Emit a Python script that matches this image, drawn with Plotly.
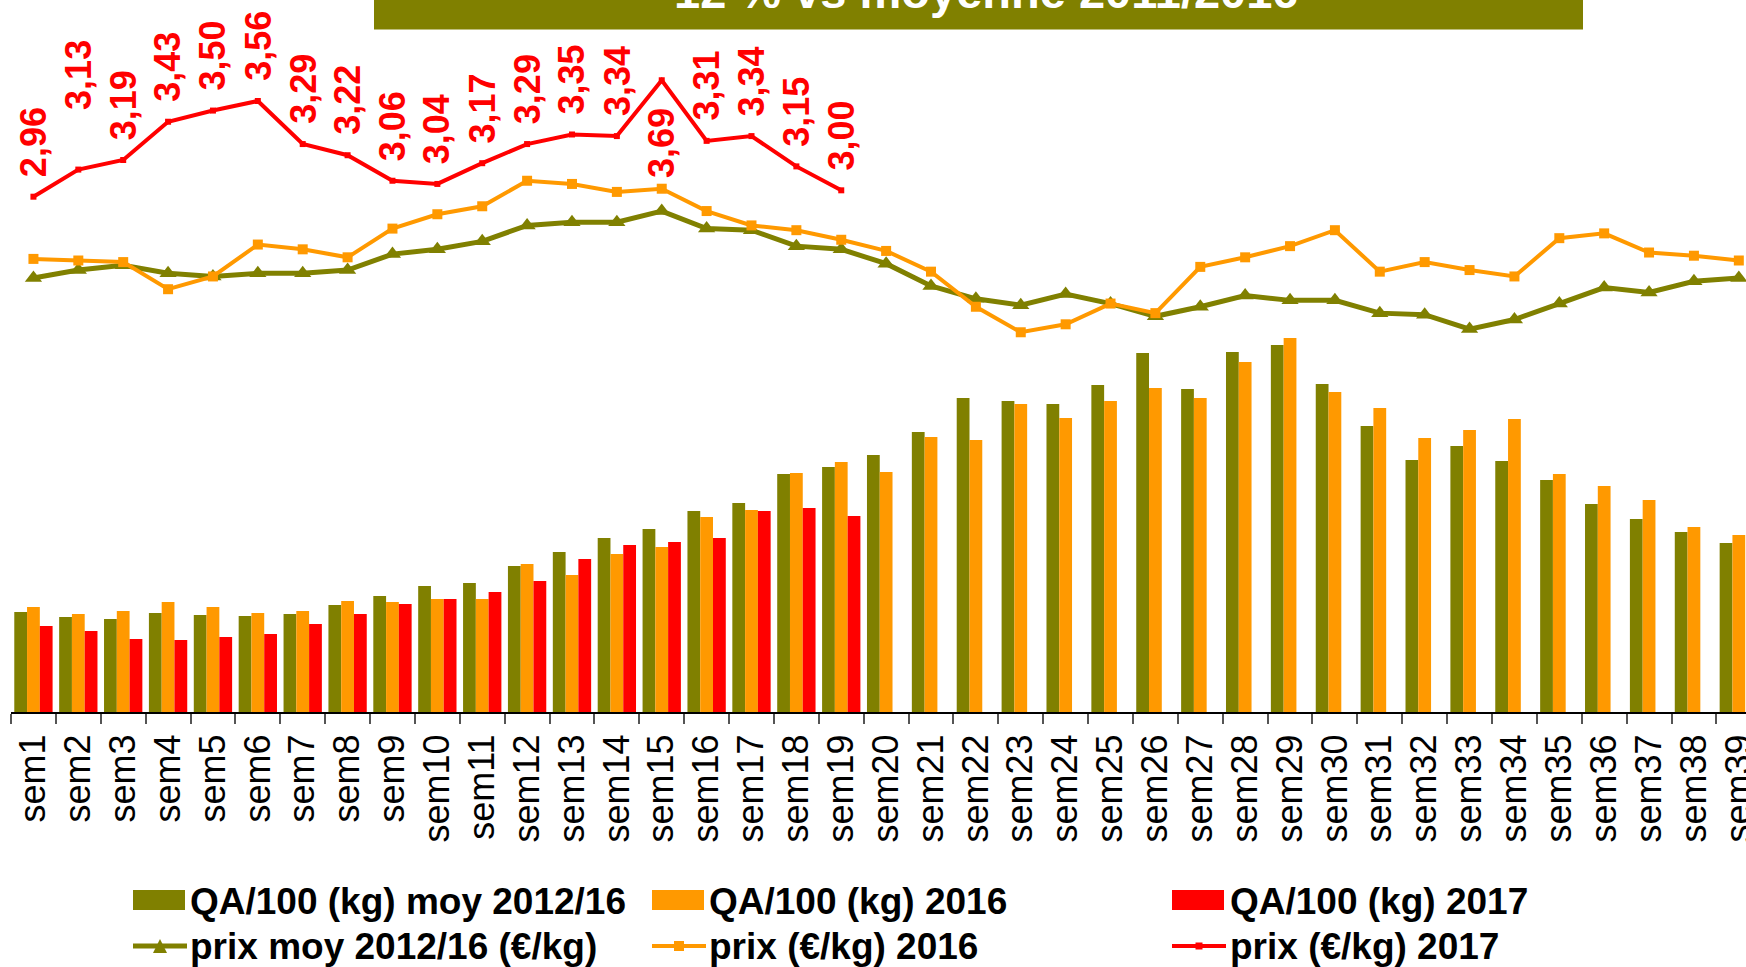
import plotly.graph_objects as go

# ---------------- data ----------------
weeks = [f"sem{i}" for i in range(1, 40)]

qa_moy = [10.0, 9.5, 9.3, 9.9, 9.7, 9.6, 9.8, 10.7, 11.6, 12.6,
          12.9, 14.6, 16.0, 17.4, 18.3, 20.1, 20.9, 23.8, 24.5, 25.7,
          28.0, 31.4, 31.1, 30.8, 32.7, 35.9, 32.3, 36.0, 36.7, 32.8,
          28.6, 25.2, 26.6, 25.1, 23.2, 20.8, 19.3, 18.0, 16.9]
qa_2016 = [10.5, 9.8, 10.1, 11.0, 10.5, 9.9, 10.1, 11.1, 11.0, 11.3,
           11.3, 14.8, 13.7, 15.8, 16.5, 19.5, 20.2, 23.9, 25.0, 24.0,
           27.5, 27.2, 30.8, 29.4, 31.1, 32.4, 31.4, 35.0, 37.4, 32.0,
           30.4, 27.4, 28.2, 29.3, 23.8, 22.6, 21.2, 18.5, 17.7]
qa_2017 = [8.6, 8.1, 7.3, 7.2, 7.5, 7.8, 8.8, 9.8, 10.8, 11.3,
           12.0, 13.1, 15.3, 16.7, 17.0, 17.4, 20.1, 20.4, 19.6] + [None] * 20

prix_moy = [2.45, 2.50, 2.53, 2.48, 2.46, 2.48, 2.48, 2.50, 2.60, 2.63,
            2.68, 2.78, 2.80, 2.80, 2.87, 2.76, 2.75, 2.65, 2.63, 2.54,
            2.40, 2.32, 2.28, 2.35, 2.29, 2.21, 2.27, 2.34, 2.31, 2.31,
            2.23, 2.22, 2.13, 2.19, 2.29, 2.39, 2.36, 2.43, 2.45]
prix_2016 = [2.57, 2.56, 2.55, 2.38, 2.46, 2.66, 2.63, 2.58, 2.76, 2.85,
             2.90, 3.06, 3.04, 2.99, 3.01, 2.87, 2.78, 2.75, 2.69, 2.62,
             2.49, 2.27, 2.11, 2.16, 2.29, 2.23, 2.52, 2.58, 2.65, 2.75,
             2.49, 2.55, 2.50, 2.46, 2.70, 2.73, 2.61, 2.59, 2.56]
prix_2017 = [2.96, 3.13, 3.19, 3.43, 3.50, 3.56, 3.29, 3.22, 3.06, 3.04,
             3.17, 3.29, 3.35, 3.34, 3.69, 3.31, 3.34, 3.15, 3.00] + [None] * 20

series_names = ["QA/100 (kg) moy 2012/16", "QA/100 (kg) 2016", "QA/100 (kg) 2017",
                "prix moy 2012/16 (€/kg)", "prix (€/kg) 2016", "prix (€/kg) 2017"]
title_text = "12 % vs moyenne 2011/2016"

OLIVE, ORANGE, RED = "#808000", "#FF9900", "#FF0000"
FONT = "Arial, Liberation Sans, sans-serif"

# ---------------- geometry helpers ----------------
W, H = 1746, 967
ML, MR, MT, MB = 11, 0, 0, 255
PW, PH = W - ML - MR, H - MT - MB


def px_x(px):
    return (px - ML) / PW


def px_y(py):
    return 1 - (py - MT) / PH


fig = go.Figure()
for vals, name, col in [(qa_moy, series_names[0], OLIVE),
                        (qa_2016, series_names[1], ORANGE),
                        (qa_2017, series_names[2], RED)]:
    fig.add_trace(go.Bar(x=weeks, y=vals, name=name, marker_color=col,
                         marker_line_width=0, yaxis="y"))

fig.add_trace(go.Scatter(x=weeks, y=prix_moy, name=series_names[3], mode="lines+markers",
                         line=dict(color=OLIVE, width=5),
                         marker=dict(symbol="triangle-up", size=15, color=OLIVE),
                         yaxis="y2"))
fig.add_trace(go.Scatter(x=weeks, y=prix_2016, name=series_names[4], mode="lines+markers",
                         line=dict(color=ORANGE, width=4),
                         marker=dict(symbol="square", size=10, color=ORANGE),
                         yaxis="y2"))
fig.add_trace(go.Scatter(x=weeks, y=prix_2017, name=series_names[5], mode="lines+markers",
                         line=dict(color=RED, width=4),
                         marker=dict(symbol="square", size=6, color=RED),
                         yaxis="y2"))

annotations = []
# data labels on 2017 price (rotated)
for i, v in enumerate(prix_2017):
    if v is None:
        continue
    txt = f"<b>{v:.2f}</b>".replace(".", ",")
    if weeks[i] == "sem15":
        ya, ys = "top", -26
    elif weeks[i] == "sem2":
        ya, ys = "bottom", 58
    else:
        ya, ys = "bottom", 18
    annotations.append(dict(x=weeks[i], y=v, xref="x", yref="y2", text=txt,
                            textangle=-90, showarrow=False, yanchor=ya, xanchor="center",
                            yshift=ys, font=dict(family=FONT, size=36, color=RED)))

# title (top cropped)
annotations.append(dict(x=px_x(986), y=px_y(20), xref="paper", yref="paper",
                        text=f"<b>{title_text}</b>", showarrow=False,
                        xanchor="center", yanchor="bottom",
                        font=dict(family=FONT, size=47, color="white")))

shapes = [dict(type="rect", xref="paper", yref="paper", layer="below",
               x0=px_x(374), x1=px_x(1583), y0=px_y(29.5), y1=px_y(-20),
               fillcolor=OLIVE, line_width=0)]

# custom legend
row1, row2 = 900, 946
cols = [(133, 188), (652, 707), (1172, 1228)]
bar_cols = [OLIVE, ORANGE, RED]
for (sx, tx), c, name in zip(cols, bar_cols, series_names[:3]):
    shapes.append(dict(type="rect", xref="paper", yref="paper",
                       x0=px_x(sx), x1=px_x(sx + 52), y0=px_y(row1 + 10), y1=px_y(row1 - 10),
                       fillcolor=c, line_width=0))
    annotations.append(dict(x=px_x(tx), y=px_y(row1 + 1), xref="paper", yref="paper",
                            text=f"<b>{name}</b>", showarrow=False, xanchor="left",
                            yanchor="middle", font=dict(family=FONT, size=37, color="black")))
line_widths = [5, 4, 4]
for (sx, tx), c, name, lw, k in zip(cols, bar_cols, series_names[3:], line_widths, range(3)):
    shapes.append(dict(type="line", xref="paper", yref="paper",
                       x0=px_x(sx), x1=px_x(sx + 54), y0=px_y(row2), y1=px_y(row2),
                       line=dict(color=c, width=lw)))
    cx = sx + 27
    if k == 0:
        path = (f"M {px_x(cx - 7)},{px_y(row2 + 7)} L {px_x(cx + 7)},{px_y(row2 + 7)} "
                f"L {px_x(cx)},{px_y(row2 - 7)} Z")
        shapes.append(dict(type="path", xref="paper", yref="paper", path=path,
                           fillcolor=c, line_width=0))
    else:
        hs = 5 if k == 1 else 3.5
        shapes.append(dict(type="rect", xref="paper", yref="paper",
                           x0=px_x(cx - hs), x1=px_x(cx + hs), y0=px_y(row2 + hs), y1=px_y(row2 - hs),
                           fillcolor=c, line_width=0))
    annotations.append(dict(x=px_x(tx), y=px_y(row2 + 1), xref="paper", yref="paper",
                            text=f"<b>{name}</b>", showarrow=False, xanchor="left",
                            yanchor="middle", font=dict(family=FONT, size=37, color="black")))

fig.update_layout(
    width=W, height=H,
    margin=dict(l=ML, r=MR, t=MT, b=MB, pad=0, autoexpand=False),
    template="none",
    paper_bgcolor="white", plot_bgcolor="white",
    showlegend=False,
    barmode="group", bargap=0.146, bargroupgap=0,
    xaxis=dict(type="category", range=[-0.5, 38.16], tickangle=-90,
               tickfont=dict(family=FONT, size=36, color="black"),
               ticks="outside", ticklen=10, tickwidth=1.5, tickcolor="#555555",
               tickson="boundaries", showline=True, linecolor="black", linewidth=2,
               showgrid=False, zeroline=False, automargin=False, ticklabelstandoff=6),
    yaxis=dict(range=[0, 71.2], visible=False, showgrid=False, zeroline=False),
    yaxis2=dict(range=[-0.2707, 4.1932], overlaying="y", side="right", visible=False,
                showgrid=False, zeroline=False),
    annotations=annotations,
    shapes=shapes,
)

fig.write_html("out.html", config={"displayModeBar": False},
               post_script="document.body.style.margin='0px';document.body.style.overflow='hidden';")
